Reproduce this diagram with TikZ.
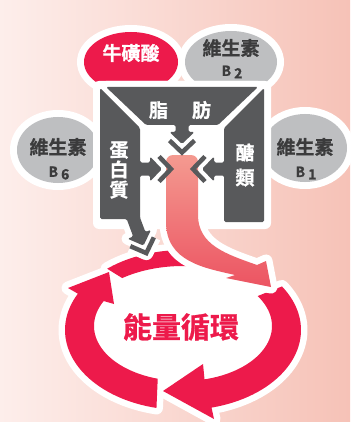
\documentclass[tikz,border=0pt]{standalone}
\usepackage{fontspec}
\newfontfamily\cjk{Noto Sans CJK TC Bold}[FakeBold=0.9]
\definecolor{bgleft}{HTML}{FDEEEB}
\definecolor{bgright}{HTML}{F6C2B7}
\definecolor{crimson}{HTML}{ED1A4B}
\definecolor{bubblegray}{HTML}{BEBFC1}
\definecolor{inkgray}{HTML}{3B3B3C}
\definecolor{funnelgray}{HTML}{58595B}
\definecolor{feedtop}{HTML}{F49A90}
\definecolor{feedbot}{HTML}{EC5462}

% pieces of the energy cycle
\def\cyclea{plot[domain=-33:76,samples=40] ({183+118*cos(\x)},{330+80*sin(\x)}) -- (214,419) -- (163,391) -- (203,364) -- plot[domain=76:-33,samples=40] ({183+89*cos(\x)},{326+55*sin(\x)}) -- cycle}
\def\cycleb{plot[domain=103:207,samples=40] ({183+118*cos(\x)},{330+80*sin(\x)}) -- (68,288) -- (109,272) -- (114,304) -- plot[domain=207:106.5,samples=40] ({183+89*cos(\x)},{326+55*sin(\x)}) -- cycle}
\def\cyclec{plot[domain=230:282,samples=30] ({183+118*cos(\x)},{330+80*sin(\x)}) -- plot[domain=282:233,samples=30] ({183+101*cos(\x)},{326+60*sin(\x)}) -- cycle}
% pink feed arrow
\def\feed{(166,200) -- (166,222) .. controls (166,262) and (205,268) .. (235,275) -- (226,278) -- (271,287) -- (266,261) -- (257,265) .. controls (226,254) and (198,245) .. (198,215) [rounded corners=7pt] -- (198,155) -- (166,155) [sharp corners] -- cycle}
% funnel parts
\def\leftcol{(100,88) -- (140,128) -- (140,162.5) -- (150,162.5) -- (150,156.5) -- (162,169) -- (150,181.5) -- (150,175.5) -- (140,175.5) -- (140,217.5) -- (145.4,232) -- (151,229.9) -- (143.5,245.6) -- (127.6,238.7) -- (133.2,236.6) -- (126.7,219) -- (100,219) -- cycle}
\def\topbar{(106,87) -- (258,87) -- (218,125) -- (188.5,125) -- (188.5,132) -- (194.5,132) -- (182,144) -- (169.5,132) -- (175.5,132) -- (175.5,125) -- (146,125) -- cycle}
\def\rightcol{(264,88) -- (264,222) -- (224,222) -- (224,175.5) -- (214,175.5) -- (214,181.5) -- (202,169) -- (214,156.5) -- (214,162.5) -- (224,162.5) -- (224,128) -- cycle}

\begin{document}
\begin{tikzpicture}[x=1pt,y=-1pt,
  halo/.style={draw=white,line width=13pt,line join=round},
  chev/.style={draw=funnelgray,line width=4.5pt,miter limit=10},
  lbl/.style={inner sep=0pt,font=\cjk\fontsize{19}{20}\selectfont},
  sub/.style={inner sep=0pt,text=inkgray,font=\cjk\fontsize{14}{14}\selectfont}]
\useasboundingbox (0,0) rectangle (350,422);
\shade[left color=bgleft,right color=bgright] (0,0) rectangle (350,422);
%
% energy cycle
\fill[white] (183,328) circle[x radius=96,y radius=62];
\path[halo] \cyclea;
\path[halo] \cycleb;
\path[halo] \cyclec;
\fill[crimson] \cyclea;
\fill[crimson] \cycleb;
\fill[crimson] \cyclec;
\node[inner sep=0pt,text=crimson,font=\cjk\fontsize{29}{29}\selectfont] (cycle) at (181,327) {能量循環};
%
% nutrient bubbles
\foreach \cx/\cy/\rx/\ry in {131/62/47/30, 231/62/46/31, 58/150/41/33, 305/148/42/34}
  \draw[white,line width=14pt] (\cx,\cy) circle[x radius=\rx,y radius=\ry];
\fill[crimson] (131,62) circle[x radius=47,y radius=30];
\foreach \cx/\cy/\rx/\ry in {231/62/46/31, 58/150/41/33, 305/148/42/34}
  \fill[bubblegray] (\cx,\cy) circle[x radius=\rx,y radius=\ry];
\node[lbl,text=white] (taurine) at (131,53) {牛磺酸};
\node[lbl,text=inkgray] (vitb2) at (231,48) {維生素};
\node[sub] (vitb2sub) at (232,72) {B\hspace{3pt}\raisebox{-2.5pt}{2}};
\node[lbl,text=inkgray] (vitb6) at (58,147) {維生素};
\node[sub] (vitb6sub) at (59,173) {B\hspace{3pt}\raisebox{-2.5pt}{6}};
\node[lbl,text=inkgray] (vitb1) at (305,147) {維生素};
\node[sub] (vitb1sub) at (306,173) {B\hspace{3pt}\raisebox{-2.5pt}{1}};
%
% funnel backdrop and halos
\fill[white,rounded corners=6pt] (93,81) rectangle (271,229);
\path[halo,line width=12pt] \leftcol;
\path[halo,line width=12pt] \topbar;
\path[halo,line width=12pt] \rightcol;
\draw[white,line width=14pt,line join=round] (153.85,237.4) -- (146.3,253.1) -- (130.35,246.2);
%
% feed arrow
\path[halo] \feed;
\shade[top color=feedtop,bottom color=feedbot] \feed;
%
% funnel
\fill[funnelgray,rounded corners=1.5pt] \leftcol;
\fill[funnelgray,rounded corners=1.5pt] \topbar;
\fill[funnelgray,rounded corners=1.5pt] \rightcol;
\draw[chev] (169.5,140.5) -- (182,152.5) -- (194.5,140.5);
\draw[chev] (159,156.5) -- (171,169) -- (159,181.5);
\draw[chev] (205,156.5) -- (193,169) -- (205,181.5);
\draw[chev] (153.85,237.4) -- (146.3,253.1) -- (130.35,246.2);
\node[lbl,text=white] (fat) at (180,110) {脂\hspace{24pt}肪};
\node[lbl,text=white,align=center] (protein) at (119,170) {蛋\\白\\質};
\node[lbl,text=white,align=center,font=\cjk\fontsize{19}{25}\selectfont] (sugar) at (245,165) {醣\\類};
%
\end{tikzpicture}
\end{document}
